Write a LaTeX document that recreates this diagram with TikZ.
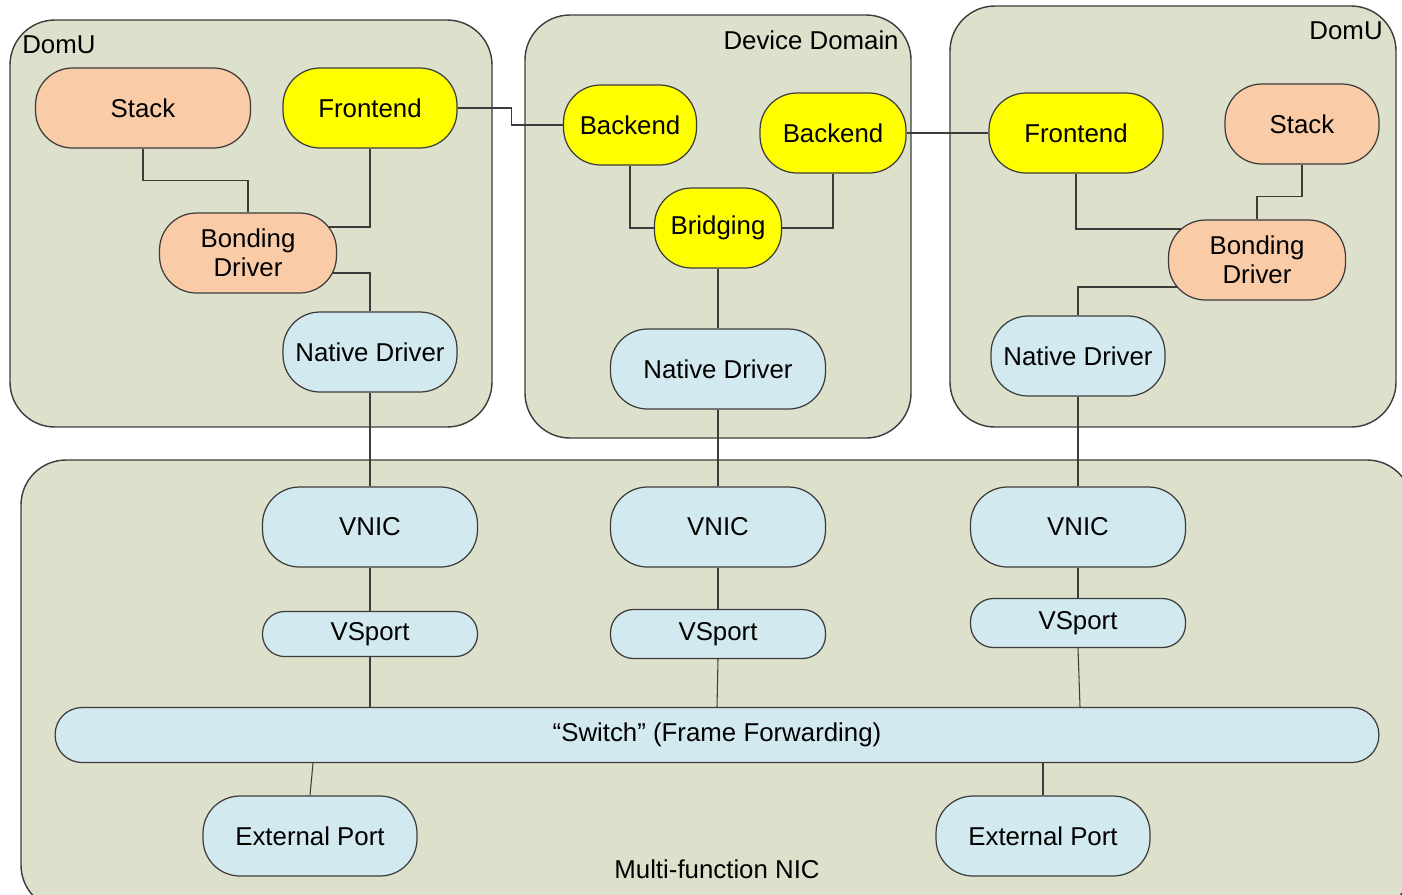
\documentclass[tikz,border=0pt]{standalone}
\usepackage{fontspec}
\setmainfont{Liberation Sans}
\usetikzlibrary{calc}
\pgfdeclarelayer{boxes}
\pgfdeclarelayer{wires}
\pgfsetlayers{boxes,wires,main}

\definecolor{domfill}{RGB}{221,224,203}
\definecolor{orangefill}{RGB}{249,203,167}
\definecolor{yellowfill}{RGB}{255,255,0}
\definecolor{bluefill}{RGB}{210,234,239}
\definecolor{edge}{RGB}{60,60,60}

\begin{document}
\begin{tikzpicture}[x=0.02cm,y=-0.02cm,
  every node/.style={font=\fontsize{14.7}{16.5}\selectfont},
  domainbox/.style={draw=edge,line width=0.8pt,fill=domfill,rounded corners=0.9cm},
  blk/.style={draw=edge,line width=0.7pt,rounded corners=0.74cm,
    minimum height=1.6cm,inner sep=0pt,align=center},
  orangeblk/.style={blk,fill=orangefill},
  yellowblk/.style={blk,fill=yellowfill},
  blueblk/.style={blk,fill=bluefill},
  portblk/.style={blueblk,rounded corners=0.46cm},
  wire/.style={draw=edge,line width=0.6pt}]

\useasboundingbox (0,0) rectangle (1402,894);

% enclosing domains
\begin{pgfonlayer}{boxes}
  \fill[white] (0,0) rectangle (1402,894);
  \draw[domainbox] (10,20) rectangle (492,427);
  \draw[domainbox] (525,15) rectangle (911,438);
  \draw[domainbox] (950,6) rectangle (1396,427);
  \begin{scope}
    \clip (0,0) rectangle (1402,894);
    \draw[domainbox] (21,460) rectangle (1412,910);
  \end{scope}
\end{pgfonlayer}

% domain titles
\node[anchor=west,inner sep=0pt] (tDomL) at (22,45) {DomU};
\node[anchor=east,inner sep=0pt] (tDev) at (899,40) {Device Domain};
\node[anchor=east,inner sep=0pt] (tDomR) at (1383,31) {DomU};
\node (tNic) at (717,869) {Multi-function NIC};

% left DomU
\node[orangeblk,minimum width=4.3cm] (stackL) at (143,108) {Stack};
\node[yellowblk,minimum width=3.48cm] (frontL) at (370,108) {Frontend};
\node[orangeblk,minimum width=3.54cm] (bondL) at (248,253) {Bonding\\Driver};
\node[blueblk,minimum width=3.48cm] (nativeL) at (370,352) {Native Driver};

% device domain
\node[yellowblk,minimum width=2.66cm] (be1) at (630,125) {Backend};
\node[yellowblk,minimum width=2.92cm] (be2) at (833,133) {Backend};
\node[yellowblk,minimum width=2.54cm] (bridge) at (718,228) {Bridging};
\node[blueblk,minimum width=4.3cm] (nativeD) at (718,369) {Native Driver};

% right DomU
\node[yellowblk,minimum width=3.48cm] (frontR) at (1076,133) {Frontend};
\node[orangeblk,minimum width=3.08cm] (stackR) at (1302,124) {Stack};
\node[orangeblk,minimum width=3.54cm] (bondR) at (1257,260) {Bonding\\Driver};
\node[blueblk,minimum width=3.48cm] (nativeR) at (1078,356) {Native Driver};

% multi-function NIC
\node[blueblk,minimum width=4.3cm] (vnic1) at (370,527) {VNIC};
\node[blueblk,minimum width=4.3cm] (vnic2) at (718,527) {VNIC};
\node[blueblk,minimum width=4.3cm] (vnic3) at (1078,527) {VNIC};
\node[portblk,minimum width=4.3cm,minimum height=0.9cm,rounded corners=0.44cm] (vsp1) at (370,634) {VSport};
\node[portblk,minimum width=4.3cm,minimum height=0.98cm] (vsp2) at (718,634) {VSport};
\node[portblk,minimum width=4.3cm,minimum height=0.98cm] (vsp3) at (1078,623) {VSport};
\node[blueblk,minimum width=26.48cm,minimum height=1.1cm,rounded corners=0.54cm] (switch) at (717,735) {“Switch” (Frame Forwarding)};
\node[blueblk,minimum width=4.28cm] (ext1) at (310,836) {External Port};
\node[blueblk,minimum width=4.28cm] (ext2) at (1043,836) {External Port};

% connections
\begin{pgfonlayer}{wires}
  \draw[wire] (stackL.south) -- ++(0,32) -| (bondL.north);
  \draw[wire] (frontL.south) |- ($(bondL.center)+(0,-26)$);
  \draw[wire] ($(bondL.center)+(0,20)$) -| (nativeL.north);
  \draw[wire] (nativeL) -- (vnic1);
  \draw[wire] (frontL.east) -- ++(54,0) |- (be1.west);
  \draw[wire] (be1.south) |- (bridge.west);
  \draw[wire] (be2.south) |- (bridge.east);
  \draw[wire] (bridge) -- (nativeD);
  \draw[wire] (nativeD) -- (vnic2);
  \draw[wire] (be2.east) -- (frontR.west);
  \draw[wire] (frontR.south) |- ($(bondR.center)+(0,-31)$);
  \draw[wire] (stackR.south) -- ++(0,32) -| (bondR.north);
  \draw[wire] ($(bondR.center)+(0,27)$) -| (nativeR.north);
  \draw[wire] (nativeR) -- (vnic3);
  \draw[wire] (vnic1) -- (vsp1);
  \draw[wire] (vnic2) -- (vsp2);
  \draw[wire] (vnic3) -- (vsp3);
  \draw[wire] (vsp1.south) -- (vsp1.south |- switch.north);
  \draw[wire] (vsp2.south) -- ($(vsp2.south |- switch.north)+(-1,0)$);
  \draw[wire] (vsp3.south) -- ($(vsp3.south |- switch.north)+(2,0)$);
  \draw[wire] ($(ext1.north |- switch.south)+(3,0)$) -- (ext1.north);
  \draw[wire] (ext2.north |- switch.south) -- (ext2.north);
\end{pgfonlayer}
\end{tikzpicture}
\end{document}
